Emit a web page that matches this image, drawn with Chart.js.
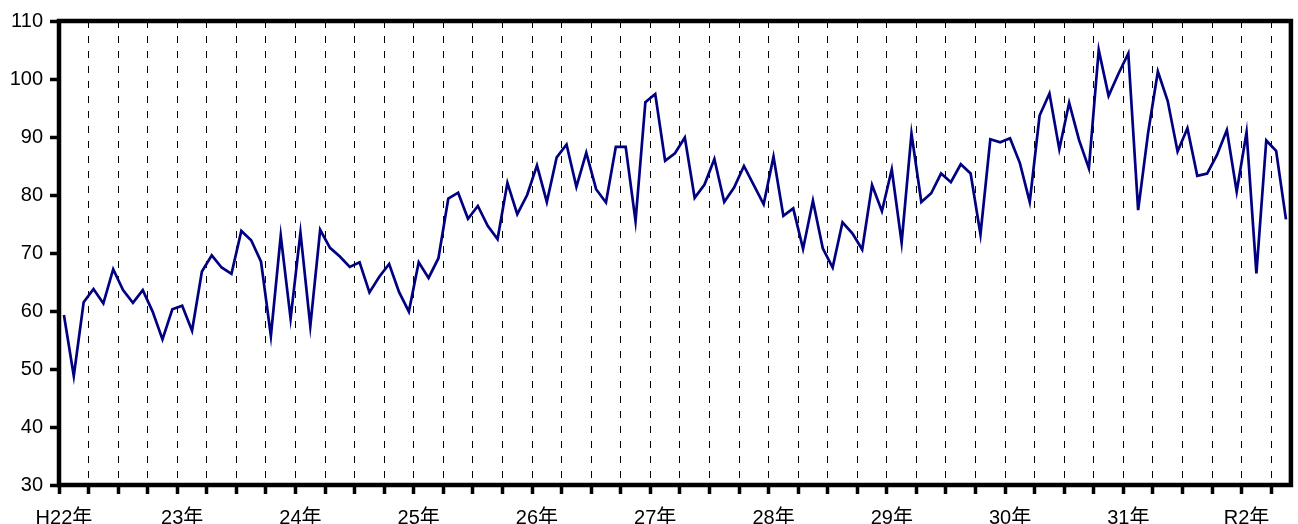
<!DOCTYPE html>
<html>
<head>
<meta charset="utf-8">
<script src="https://cdn.jsdelivr.net/npm/chart.js@4/dist/chart.umd.min.js"></script>
<style>
  html, body { margin: 0; padding: 0; background: #fff; }
  #wrap { width: 1298px; height: 524px; }
</style>
</head>
<body>
<div id="wrap"><canvas id="lineChart"></canvas></div>
<script>
// year labels (one per January)
const yearLabels = ['H22年', '23年', '24年', '25年', '26年', '27年', '28年', '29年', '30年', '31年', 'R2年'];

// monthly values, one array per year
const h22 = [59.3, 48.8, 61.5, 63.8, 61.3, 67.2, 63.6, 61.4, 63.6, 59.9, 55.1, 60.3];
const h23 = [60.9, 56.6, 66.8, 69.6, 67.5, 66.4, 73.8, 72.2, 68.5, 55.7, 73.0, 58.7];
const h24 = [73.5, 57.4, 74.0, 70.9, 69.4, 67.6, 68.4, 63.2, 65.9, 68.1, 63.3, 59.9];
const h25 = [68.4, 65.7, 69.1, 79.4, 80.4, 75.9, 78.1, 74.7, 72.4, 82.1, 76.7, 80.0];
const h26 = [85.1, 78.8, 86.5, 88.7, 81.4, 87.3, 81.0, 78.7, 88.3, 88.3, 75.5, 96.0];
const h27 = [97.4, 85.9, 87.2, 89.9, 79.5, 81.8, 86.2, 78.8, 81.3, 85.0, 81.7, 78.4];
const h28 = [86.6, 76.4, 77.7, 70.7, 79.0, 70.8, 67.5, 75.3, 73.4, 70.6, 81.7, 77.2];
const h29 = [84.4, 71.8, 90.6, 78.8, 80.3, 83.7, 82.2, 85.3, 83.7, 73.2, 89.6, 89.1];
const h30 = [89.8, 85.5, 78.8, 93.7, 97.5, 87.9, 95.9, 89.5, 84.6, 105.0, 97.1, 100.9];
const h31 = [104.4, 77.4, 90.6, 101.3, 96.2, 87.5, 91.5, 83.3, 83.7, 86.9, 91.2, 80.6];
const r2 = [90.8, 66.5, 89.4, 87.6, 75.8];

const yMin = 30;
const yMax = 110;
const yStep = 10;

const values = [].concat(h22, h23, h24, h25, h26, h27, h28, h29, h30, h31, r2);

// category per month, the year label sits on January
const categories = values.map((v, i) => (i % 12 === 0 ? yearLabels[i / 12] : ''));

const FONT = "'Liberation Sans', 'Noto Sans CJK JP', sans-serif";

// thick frame around the plot area
const framePlugin = {
  id: 'frame',
  afterDraw(chart) {
    const { ctx, chartArea: a } = chart;
    ctx.save();
    ctx.strokeStyle = '#000';
    ctx.lineWidth = 4.5;
    ctx.strokeRect(a.left, a.top, a.right - a.left, a.bottom - a.top);
    ctx.restore();
  }
};

function createChart() {
  const ctx = document.getElementById('lineChart').getContext('2d');

  new Chart(ctx, {
    type: 'line',
    data: {
      labels: categories,
      datasets: [{
        data: values,
        borderColor: '#000080',
        borderWidth: 2.7,
        pointRadius: 0,
        tension: 0,
        fill: false
      }]
    },
    options: {
      responsive: true,
      maintainAspectRatio: false,
      animation: false,
      layout: { padding: { top: 21, right: 4, left: 0, bottom: 0 } },
      plugins: {
        legend: { display: false },
        tooltip: { enabled: false }
      },
      scales: {
        x: {
          type: 'category',
          offset: true,
          afterFit: scale => { scale.height = 39; },
          grid: {
            offset: true,
            color: c => (c.index % 3 === 0 && c.index > 0 && c.index < values.length ? '#000' : 'rgba(0,0,0,0)'),
            lineWidth: 1,
            drawTicks: true,
            tickLength: 9,
            tickWidth: 3.5,
            tickBorderDash: [],
            tickColor: c => (c.index % 3 === 0 && c.index < values.length ? '#000' : 'rgba(0,0,0,0)')
          },
          border: { display: false, dash: [7, 8] },
          ticks: {
            autoSkip: false,
            maxRotation: 0,
            minRotation: 0,
            padding: 12,
            color: '#000',
            font: { family: FONT, size: 20 },
            callback: (val, i) => categories[i]
          }
        },
        y: {
          min: yMin,
          max: yMax,
          afterFit: scale => { scale.width = 59; },
          grid: {
            drawOnChartArea: false,
            drawTicks: true,
            tickLength: 9,
            tickWidth: 3.5,
            tickColor: '#000'
          },
          border: { display: false },
          ticks: {
            stepSize: yStep,
            padding: 7,
            color: '#000',
            font: { family: FONT, size: 20 }
          }
        }
      }
    },
    plugins: [framePlugin]
  });
}

window.addEventListener('load', createChart);
</script>
</body>
</html>
